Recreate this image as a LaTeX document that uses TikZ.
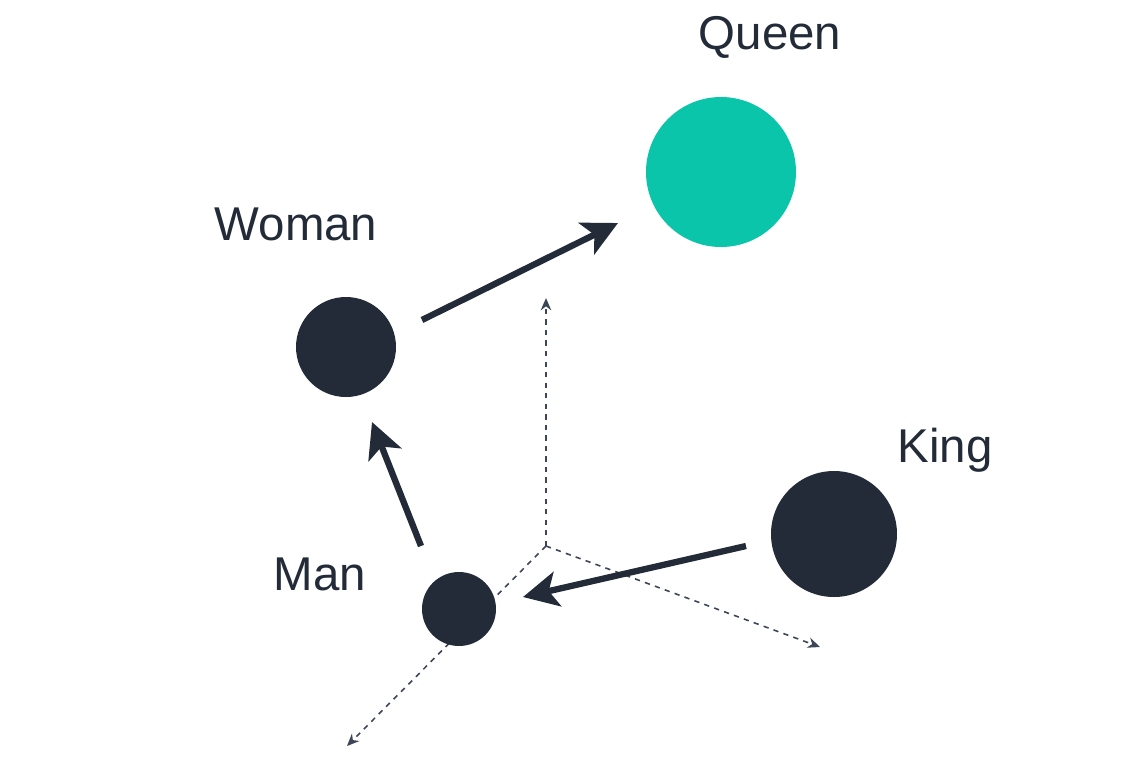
\documentclass[tikz,border=0pt]{standalone}
\usepackage{fontspec}
\setmainfont{Liberation Sans}
\usetikzlibrary{arrows.meta}
\definecolor{ink}{HTML}{222B37}
\definecolor{axisgray}{HTML}{3D4656}
\definecolor{teal}{HTML}{0BC5AB}
\begin{document}
\begin{tikzpicture}[x=0.02cm,y=-0.02cm,
  word/.style={circle,fill=ink,inner sep=0pt},
  lbl/.style={text=ink,font=\fontsize{27}{32}\selectfont},
  axis/.style={axisgray,dashed,line width=0.9pt,-{Stealth[length=7pt,width=6pt]}},
  offset/.style={ink,line width=3.6pt,-{Stealth[length=20pt,width=20pt,inset=5pt]}}]
  \useasboundingbox (0,0) rectangle (1134,762);
  %AXES
  \coordinate (O) at (546,546);
  \coordinate (up) at (546,298);
  \coordinate (right) at (820,647);
  \coordinate (down) at (347,746);
  \draw[axis] (O) -- (up);
  \draw[axis] (O) -- (right);
  \draw[axis] (O) -- (down);
  %WORDS
  \node[circle,fill=teal,minimum size=150*0.02cm,inner sep=0pt] (queen) at (721,172) {};
  \node[word,minimum size=100*0.02cm] (woman) at (346,347) {};
  \node[word,minimum size=74*0.02cm] (man) at (459,609) {};
  \node[word,minimum size=126*0.02cm] (king) at (834,534) {};
  \node[lbl] (queenL) at (770,37) {Queen};
  \node[lbl] (womanL) at (296,224) {Woman};
  \node[lbl] (manL) at (320,574) {Man};
  \node[lbl] (kingL) at (945,450) {King};
  %OFFSETS
  \coordinate (s1) at (422,320); \coordinate (e1) at (618,223);
  \coordinate (s2) at (421,546); \coordinate (e2) at (372,422);
  \coordinate (s3) at (746,546); \coordinate (e3) at (523,597);
  \draw[offset] (s1) -- (e1);
  \draw[offset] (s2) -- (e2);
  \draw[offset] (s3) -- (e3);
\end{tikzpicture}
\end{document}
